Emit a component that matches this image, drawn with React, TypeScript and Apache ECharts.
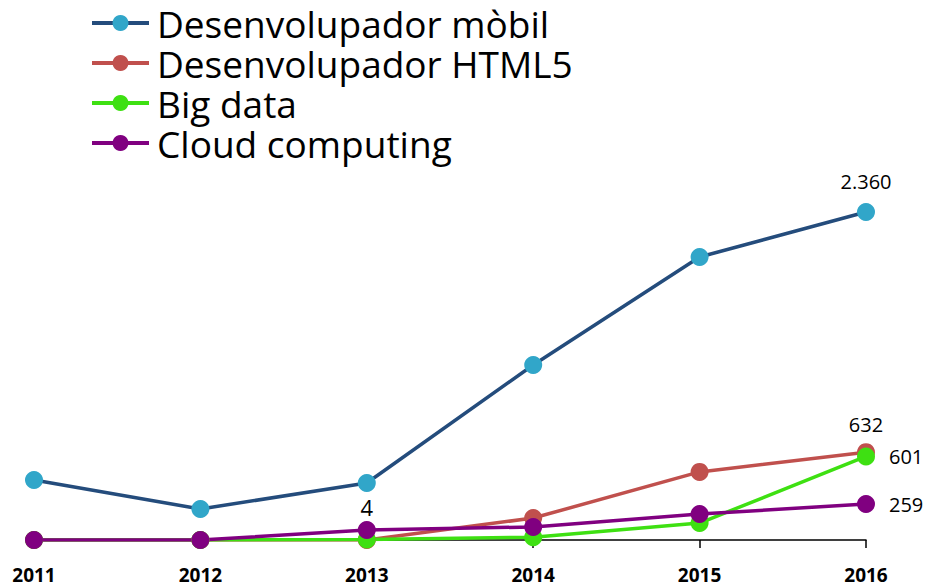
import React, { useEffect, useRef } from "react";
import * as echarts from "echarts";

const years = ["2011", "2012", "2013", "2014", "2015", "2016"];
const mobil = [432, 223, 410, 1259, 2036, 2360];
const html5 = [0, 0, 0, 158, 490, 632];
const bigData = [0, 0, 4, 20, 122, 601];
const cloud = [0, 0, 72, 94, 187, 259];
const seriesNames = ["Desenvolupador mòbil", "Desenvolupador HTML5", "Big data", "Cloud computing"];

const fmt = (v: number) => String(v).replace(/\B(?=(\d{3})+(?!\d))/g, ".");

export default function App() {
  const ref = useRef<HTMLDivElement>(null);
  useEffect(() => {
    const chart = echarts.init(ref.current!, null, { renderer: "svg" });
    const font = "Open Sans";
    const lbl = (v: number, pos: any, distance: number, fontSize = 20) => ({
      value: v,
      label: {
        show: true,
        position: pos,
        distance,
        formatter: fmt(v),
        fontSize,
        color: "#000",
        fontFamily: font,
      },
    });
    const withLast = (data: number[], pos: any, distance: number) =>
      data.map((v, i) => (i === data.length - 1 ? lbl(v, pos, distance) : v));
    const base = {
      type: "line",
      symbol: "circle",
      symbolSize: 18,
      z: 2,
    };
    chart.setOption({
      animation: false,
      legend: {
        orient: "vertical",
        left: 90,
        top: 3,
        padding: 0,
        itemWidth: 57,
        itemHeight: 20,
        itemGap: 0,
        lineStyle: { width: 4 },
        textStyle: {
          fontSize: 37,
          fontFamily: font,
          color: "#000",
          lineHeight: 40,
          padding: [0, 0, 0, 3],
        },
        data: seriesNames,
      },
      grid: { left: 34, right: 63, top: 212, bottom: 47 },
      xAxis: {
        type: "category",
        data: years,
        boundaryGap: false,
        axisLine: { lineStyle: { color: "#000", width: 1.5 } },
        axisTick: { alignWithLabel: true, length: 8, lineStyle: { color: "#000", width: 1.5 } },
        axisLabel: {
          fontSize: 19,
          fontWeight: "bold",
          fontFamily: font,
          color: "#000",
          margin: 25,
        },
      },
      yAxis: { type: "value", min: 0, max: 2360, show: false, splitLine: { show: false } },
      series: [
        {
          ...base,
          name: seriesNames[0],
          data: withLast(mobil, "top", 12),
          lineStyle: { color: "#244c7c", width: 3.5 },
          itemStyle: { color: "#31a6c9" },
        },
        {
          ...base,
          name: seriesNames[1],
          data: withLast(html5, "top", 9),
          lineStyle: { color: "#c0504d", width: 3.5 },
          itemStyle: { color: "#c0504d" },
        },
        {
          ...base,
          name: seriesNames[2],
          data: bigData.map((v, i) =>
            i === bigData.length - 1 ? lbl(v, "right", 14) : i === 2 ? lbl(v, "top", 12, 22) : v
          ),
          lineStyle: { color: "#3ee012", width: 3.5 },
          itemStyle: { color: "#3ee012" },
        },
        {
          ...base,
          name: seriesNames[3],
          data: withLast(cloud, "right", 14),
          lineStyle: { color: "#800080", width: 3.5 },
          itemStyle: { color: "#800080" },
        },
      ],
    });
    return () => chart.dispose();
  }, []);
  return <div ref={ref} style={{ width: 929, height: 587, position: "absolute", left: 0, top: 0 }} />;
}
